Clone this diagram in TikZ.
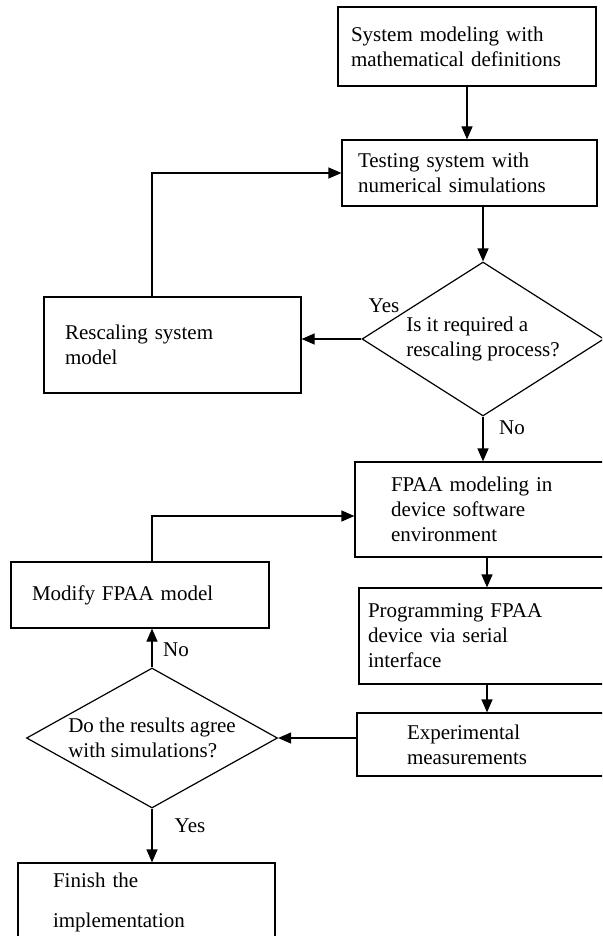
\documentclass[tikz,border=0pt]{standalone}
\usepackage{fontspec}
\setmainfont{Liberation Serif}
\usetikzlibrary{shapes.geometric,arrows.meta}

\begin{document}
\begin{tikzpicture}[x=1pt,y=-1pt,line width=1.2pt,
        every node/.style={font=\fontsize{21}{25}\selectfont},
        blk/.style={draw, rectangle, align=left, inner ysep=0pt},
        dec/.style={draw, diamond, align=left, inner sep=0pt},
        arr/.style={-{Triangle[length=13pt,width=11pt]}}]
        \useasboundingbox (0,0) rectangle (602,936);
        \clip (0,0) rectangle (602,936);

        % right hand column
        \node[blk, text width=232pt, inner xsep=13pt, minimum height=79pt]
            (model) at (467,46.5) {System modeling with\\mathematical definitions};
        \node[blk, text width=223pt, inner xsep=16pt, minimum height=66pt]
            (test) at (469.5,173) {Testing system with\\numerical simulations};
        \node[dec, minimum width=242pt, minimum height=154pt, aspect=1.57]
            (resc) at (483,339) {Is it required a\\rescaling process?};
        \node[blk, text width=192pt, inner xsep=36pt, minimum height=95pt]
            (fpaa) at (487,509.5) {FPAA modeling in\\device software\\environment};
        \node[blk, text width=238pt, inner xsep=9pt, minimum height=96pt]
            (prog) at (487,636) {Programming FPAA\\device via serial\\interface};
        \node[blk, text width=160pt, inner xsep=50pt, minimum height=63pt]
            (meas) at (487,744.5) {Experimental\\measurements};

        % left hand column
        \node[blk, text width=215pt, inner xsep=21pt, minimum height=96pt]
            (scal) at (172.5,345) {Rescaling system\\model};
        \node[blk, text width=216pt, inner xsep=21pt, minimum height=66pt]
            (modi) at (140,595) {Modify FPAA model};
        \node[dec, minimum width=251pt, minimum height=140pt, aspect=1.79]
            (agree) at (152,738) {Do the results agree\\with simulations?};
        \node[blk, text width=187pt, inner xsep=35pt, minimum height=78pt]
            (fin) at (146.5,902) {Finish the\\[15pt]implementation};

        % labels
        \node (yes1) at (384,306) {Yes};
        \node (no1) at (512,428) {No};
        \node (no2) at (176,650) {No};
        \node (yes2) at (190,826) {Yes};

        % connectors
        \draw[arr] (model.south) -- (model.south |- test.north);
        \draw[arr] (test.south -| resc.north) -- (resc.north);
        \draw[arr] (resc.west) -- (resc.west -| scal.east);
        \draw[arr] ([xshift=-20.5pt]scal.north) |- (test.west);
        \draw[arr] (resc.south) -- (resc.south |- fpaa.north);
        \draw[arr] (fpaa.south) -- (prog.north);
        \draw[arr] (prog.south) -- (meas.north);
        \draw[arr] (agree.east -| meas.west) -- (agree.east);
        \draw[arr] (agree.north) -- (agree.north |- modi.south);
        \draw[arr] (modi.north -| agree.north) |- ([yshift=-6.5pt]fpaa.west);
        \draw[arr] (agree.south) -- (agree.south |- fin.north);
    \end{tikzpicture}
\end{document}
